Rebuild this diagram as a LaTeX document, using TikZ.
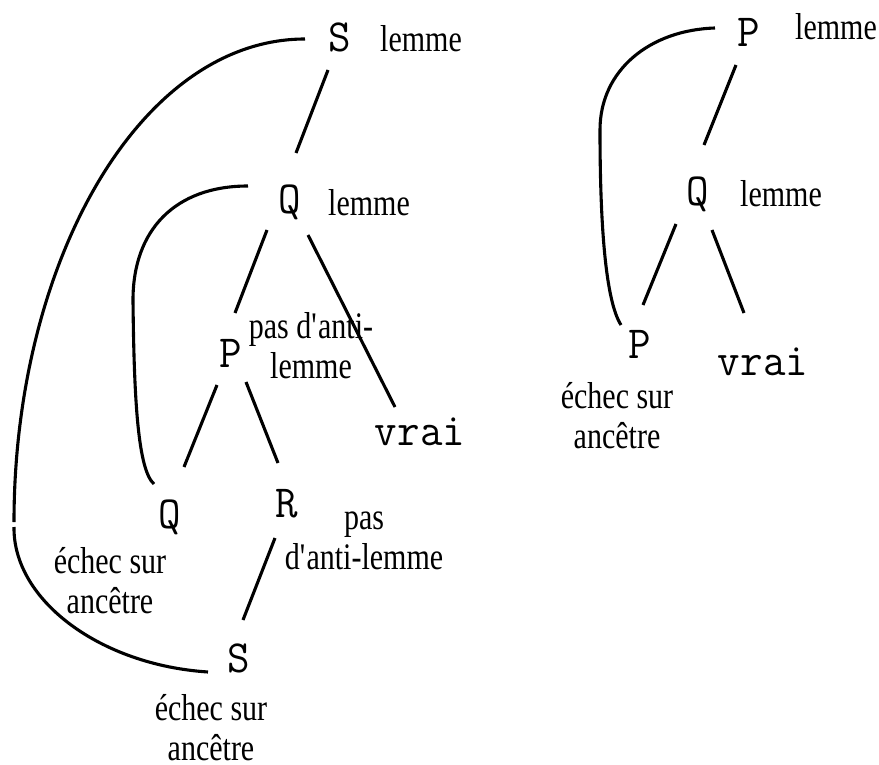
\documentclass[tikz,border=0pt]{standalone}
\usepackage{fontspec}
\setmainfont{Liberation Serif}[FakeStretch=0.8]
\newfontfamily\monof{Latin Modern Mono}[FakeStretch=0.95]
\usetikzlibrary{calc}
\tikzset{
  letter/.style={font=\monof\fontsize{46}{46}\selectfont, inner sep=0pt, anchor=base},
  lab/.style={font=\fontsize{37.5}{40}\selectfont, inner sep=0pt, align=center, anchor=base},
  labw/.style={font=\fontsize{37.5}{40}\selectfont, inner sep=0pt, anchor=base west},
  edge/.style={line width=3.1pt, line cap=butt},
}
\newcommand{\sq}{\textquotesingle}
\begin{document}
\begin{tikzpicture}[x=1pt,y=-1pt]
\useasboundingbox (0,0) rectangle (879,765);
% left tree
\node[letter] (S1) at (340,52) {S};
\node[letter] (Q1) at (290,214) {Q};
\node[letter] (P1) at (231,367) {P};
\node[letter] (V1) at (420,445) {vrai};
\node[letter] (Q2) at (170,528) {Q};
\node[letter] (R1) at (287,517) {R};
\node[letter] (S2) at (239,672) {S};
\node[labw] (lS1) at (380,52) {lemme};
\node[labw] (lQ1) at (328,215) {lemme};
\node[lab] (lP1) at (311,378) {pas d\sq anti-\\lemme};
\node[lab] (lR1) at (364,569) {pas\\d\sq anti-lemme};
\node[lab] (lQ2) at (110,613) {échec sur\\ancêtre};
\node[lab] (lS2) at (211,760) {échec sur\\ancêtre};
% right tree
\node[letter] (P3) at (749,47) {P};
\node[letter] (Q3) at (698,206) {Q};
\node[letter] (P4) at (640,358) {P};
\node[letter] (V2) at (763,375) {vrai};
\node[labw] (lP3) at (795,40) {lemme};
\node[labw] (lQ3) at (740,207) {lemme};
\node[lab] (lP4) at (617,448) {échec sur\\ancêtre};
% tree edges
\draw[edge] ($(S1.base)+(-12,18)$) -- ($(Q1.base)+(6,-61)$);
\draw[edge] ($(Q1.base)+(-23,16)$) -- ($(P1.base)+(4,-54)$);
\draw[edge] ($(Q1.base)+(18,21)$) -- ($(V1.base)+(-25,-38)$);
\draw[edge] ($(P1.base)+(-14,18)$) -- ($(Q2.base)+(14,-61)$);
\draw[edge] ($(P1.base)+(15,15)$) -- ($(R1.base)+(-9,-54)$);
\draw[edge] ($(R1.base)+(-12,21)$) -- ($(S2.base)+(4,-52)$);
\draw[edge] ($(P3.base)+(-13,18)$) -- ($(Q3.base)+(6,-61)$);
\draw[edge] ($(Q3.base)+(-22,18)$) -- ($(P4.base)+(3,-53)$);
\draw[edge] ($(Q3.base)+(14,24)$) -- ($(V2.base)+(-19,-62)$);
% back edges
\coordinate (kL) at (14,522);
\coordinate (kL2) at (14,527);
\draw[edge] ($(S1.base)+(-35,-13)$) .. controls (140,39) and (14,262) .. (kL);
\draw[edge] (kL2) .. controls (13,600) and (100,665) .. ($(S2.base)+(-31,0)$);
\draw[edge] ($(Q1.base)+(-42,-28)$) .. controls (175,186) and (133,230) .. (133,300)
  .. controls (134,400) and (138,470) .. ($(Q2.base)+(-16,-44)$);
\draw[edge] ($(P3.base)+(-34,-19)$) .. controls (650,30) and (600,70) .. (600,130)
  .. controls (600,220) and (605,300) .. ($(P4.base)+(-19,-33)$);
\end{tikzpicture}
\end{document}
